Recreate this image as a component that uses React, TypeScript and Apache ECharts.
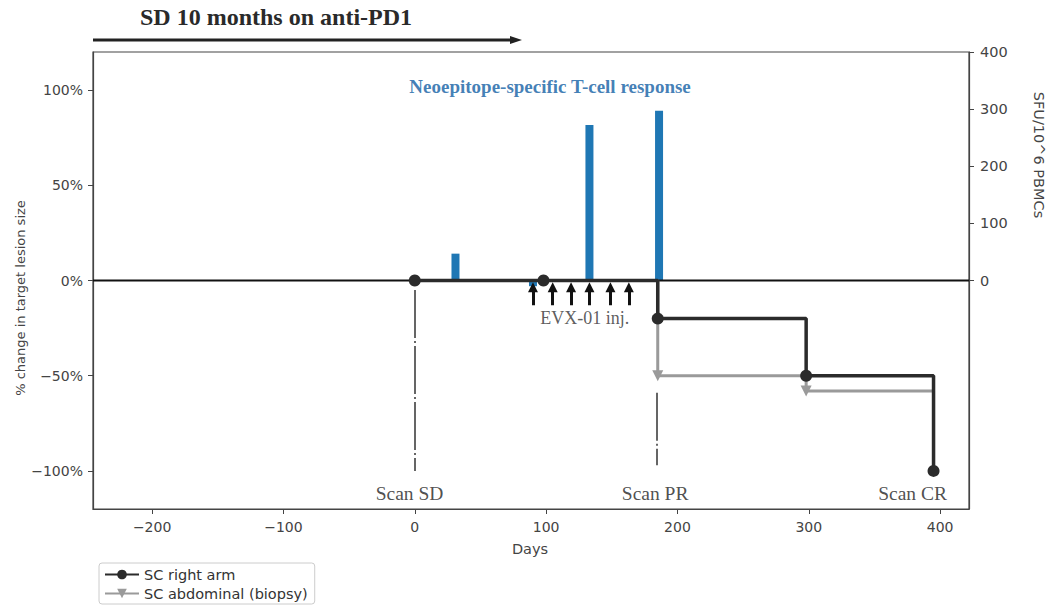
import React, { useEffect, useRef } from "react";
import * as echarts from "echarts";

// ---- data ----
const xTicks = [-200, -100, 0, 100, 200, 300, 400];
const pctTicks = [-100, -50, 0, 50, 100];
const sfuTicks = [0, 100, 200, 300, 400];

const rightArmDays = [0, 98, 185, 298, 395];
const rightArmPct = [0, 0, -20, -50, -100];
const abdominalDays = [0, 98, 185, 298, 395];
const abdominalPct = [0, 0, -50, -58, -100];

const responseDays = [31, 90, 133, 186];
const responseSFU = [47, -10, 272, 297];

const injectionDays = [90, 105, 119, 133, 149, 163];
const injectionFromPct = -13;
const injectionToPct = -3.5;

const scanLineDays = [0, 184];
const scanLineFromPct = [-5, -59];
const scanLineToPct = [-100, -97];

const scanLabelText = ["Scan SD", "Scan PR", "Scan CR"];
const scanLabelDays = [-4, 183, 379];
const scanLabelPct = -111.6;

const injectionLabel = "EVX-01 inj.";
const injectionLabelDay = 129.5;
const injectionLabelPct = -19.7;

const responseLabel = "Neoepitope-specific T-cell response";
const responseLabelDay = 103;
const responseLabelPct = 102;

const titleText = "SD 10 months on anti-PD1";
const seriesNames = ["SC right arm", "SC abdominal (biopsy)"];

const X_MIN = -245;
const X_MAX = 422;

const minus = (v: number) => (v < 0 ? "\u2212" + Math.abs(v) : String(v));

export default function App() {
  const ref = useRef<HTMLDivElement>(null);

  useEffect(() => {
    document.body.style.margin = "0";
    if (!ref.current) return;
    const chart = echarts.init(ref.current, null, { renderer: "svg" });

    const sans = "DejaVu Sans";
    const serif = "Liberation Serif";
    const axisCommon = {
      axisLine: { show: true, onZero: false, lineStyle: { color: "#444", width: 1.2 } },
      splitLine: { show: false },
    };
    const plainLabel = { textBorderWidth: 0, textShadowBlur: 0 };

    const option: any = {
      animation: false,
      backgroundColor: "#fff",
      grid: {
        left: 93,
        right: 81,
        top: 52,
        bottom: 105,
        show: true,
        borderColor: "#444",
        borderWidth: 1.2,
      },
      xAxis: {
        type: "value",
        min: X_MIN,
        max: X_MAX,
        ...axisCommon,
        axisTick: { show: true, length: 5, customValues: xTicks, lineStyle: { color: "#444" } },
        axisLabel: {
          customValues: xTicks,
          formatter: (v: number) => minus(v),
          color: "#444",
          fontSize: 14,
          fontFamily: sans,
          margin: 11,
        },
      },
      yAxis: [
        {
          type: "value",
          position: "left",
          min: -120,
          max: 120,
          ...axisCommon,
          axisTick: { show: true, length: 5, customValues: pctTicks, lineStyle: { color: "#444" } },
          axisLabel: {
            customValues: pctTicks,
            formatter: (v: number) => minus(v) + "%",
            color: "#444",
            fontSize: 14,
            fontFamily: sans,
            margin: 10,
          },
        },
        {
          type: "value",
          position: "right",
          min: -400,
          max: 400,
          ...axisCommon,
          axisTick: { show: true, length: 5, customValues: sfuTicks, lineStyle: { color: "#444" } },
          axisLabel: {
            customValues: sfuTicks,
            formatter: (v: number) => String(v),
            color: "#444",
            fontSize: 14.5,
            fontFamily: sans,
            margin: 11,
          },
        },
      ],
      legend: {
        data: seriesNames,
        orient: "vertical",
        left: 99,
        top: 563,
        padding: [4, 7, 3, 5],
        itemGap: 4,
        itemWidth: 34,
        itemHeight: 12,
        borderColor: "#ccc",
        borderWidth: 1,
        borderRadius: 3,
        backgroundColor: "#fff",
        textStyle: { fontFamily: sans, fontSize: 14.5, color: "#333" },
      },
      graphic: [
        {
          type: "text",
          left: 140,
          top: 5,
          style: { text: titleText, font: `bold 24px ${serif}`, fill: "#2a2a2a" },
        },
        {
          type: "line",
          shape: { x1: 93, y1: 40, x2: 512, y2: 40 },
          style: { stroke: "#222", lineWidth: 3 },
        },
        {
          type: "polygon",
          shape: { points: [[522, 40], [510, 36], [510, 44]] },
          style: { fill: "#222" },
        },
        {
          type: "text",
          x: 20,
          y: 298,
          rotation: Math.PI / 2,
          style: {
            text: "% change in target lesion size",
            font: `13px ${sans}`,
            fill: "#444",
            align: "center",
            verticalAlign: "middle",
          },
        },
        {
          type: "text",
          x: 1039,
          y: 155,
          rotation: -Math.PI / 2,
          style: {
            text: "SFU/10^6 PBMCs",
            font: `14.5px ${sans}`,
            fill: "#444",
            align: "center",
            verticalAlign: "middle",
          },
        },
        {
          type: "text",
          x: 530,
          y: 549,
          style: {
            text: "Days",
            font: `14.5px ${sans}`,
            fill: "#444",
            align: "center",
            verticalAlign: "middle",
          },
        },
      ],
      series: [
        {
          name: "SFU",
          type: "bar",
          xAxisIndex: 0,
          yAxisIndex: 1,
          barWidth: 8,
          itemStyle: { color: "#1f77b4" },
          data: responseDays.map((d, i) => [d, responseSFU[i]]),
          z: 1,
          silent: true,
        },
        {
          name: "zero",
          type: "line",
          yAxisIndex: 0,
          data: [
            [X_MIN, 0],
            [X_MAX, 0],
          ],
          symbol: "none",
          lineStyle: { color: "#111", width: 1.8 },
          z: 2,
          silent: true,
          markLine: {
            silent: true,
            symbol: ["none", "none"],
            label: { show: false },
            lineStyle: { color: "#333", width: 1.5, type: [48, 3, 2, 3] },
            data: scanLineDays.map((d, i) => [
              { coord: [d, scanLineFromPct[i]] },
              { coord: [d, scanLineToPct[i]] },
            ]),
          },
        },
        {
          name: seriesNames[1],
          type: "line",
          yAxisIndex: 0,
          step: "end",
          color: "#9a9a9a",
          symbol: "triangle",
          symbolRotate: 180,
          symbolSize: 11,
          lineStyle: { color: "#9a9a9a", width: 3 },
          itemStyle: { color: "#9a9a9a" },
          data: abdominalDays.map((d, i) => ({
            value: [d, abdominalPct[i]],
            symbol: abdominalPct[i] === rightArmPct[i] ? "none" : "triangle",
          })),
          z: 3,
        },
        {
          name: seriesNames[0],
          type: "line",
          yAxisIndex: 0,
          step: "end",
          color: "#2b2b2b",
          symbol: "circle",
          symbolSize: 12,
          lineStyle: { color: "#2b2b2b", width: 3.5 },
          itemStyle: { color: "#2b2b2b" },
          data: rightArmDays.map((d, i) => [d, rightArmPct[i]]),
          z: 4,
          markLine: {
            silent: true,
            label: { show: false },
            symbol: ["none", "triangle"],
            symbolSize: 10,
            lineStyle: { color: "#111", width: 3, type: "solid" },
            itemStyle: { color: "#111" },
            data: injectionDays.map((d) => [
              { coord: [d, injectionFromPct] },
              { coord: [d, injectionToPct] },
            ]),
          },
        },
        {
          name: "annotations",
          type: "scatter",
          yAxisIndex: 0,
          symbolSize: 1,
          itemStyle: { color: "rgba(0,0,0,0)" },
          silent: true,
          z: 6,
          label: { show: true, position: "inside", formatter: "{b}", ...plainLabel },
          data: [
            ...scanLabelText.map((t, i) => ({
              name: t,
              value: [scanLabelDays[i], scanLabelPct],
              label: { fontFamily: serif, fontSize: 19.5, color: "#222", ...plainLabel },
            })),
            {
              name: injectionLabel,
              value: [injectionLabelDay, injectionLabelPct],
              label: { fontFamily: serif, fontSize: 18, color: "#333", ...plainLabel },
            },
            {
              name: responseLabel,
              value: [responseLabelDay, responseLabelPct],
              label: {
                fontFamily: serif,
                fontSize: 19,
                fontWeight: "bold",
                color: "#115ea3",
                ...plainLabel,
              },
            },
          ],
        },
      ],
    };

    chart.setOption(option);
    return () => chart.dispose();
  }, []);

  return <div ref={ref} style={{ width: 1050, height: 614 }} />;
}
